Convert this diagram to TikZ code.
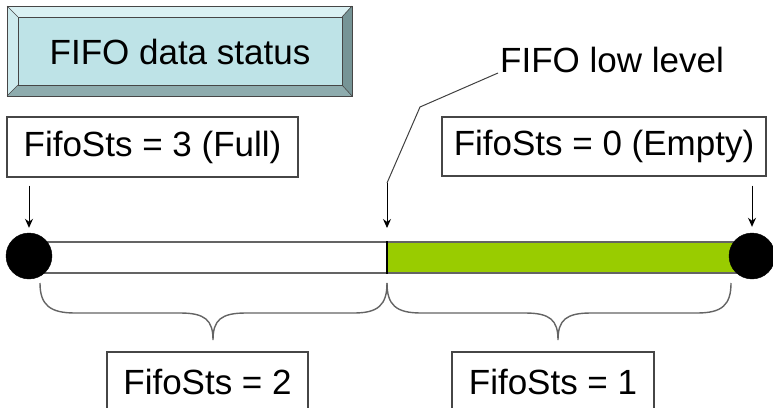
\documentclass[tikz,border=0pt]{standalone}
\usepackage{fontspec}
\setmainfont{Liberation Sans}
\usetikzlibrary{arrows.meta}
\definecolor{face}{RGB}{190,227,231}
\definecolor{bvtop}{RGB}{218,241,243}
\definecolor{bvleft}{RGB}{206,235,238}
\definecolor{bvright}{RGB}{118,148,150}
\definecolor{bvbot}{RGB}{142,172,174}
\definecolor{lime}{RGB}{153,204,0}
\definecolor{edge}{RGB}{70,70,70}
\definecolor{baredge}{RGB}{100,100,100}
\tikzset{
  lbl/.style={font=\fontsize{35}{42}\selectfont, text=black, inner sep=0pt},
  boxed/.style={lbl, draw=edge, line width=1.2pt, fill=white},
  arr/.style={-{Stealth[length=9pt,width=8pt]}, line width=1pt, black},
  brace/.style={line width=1.4pt, draw=baredge},
  dot/.style={circle, fill=black, draw=black, minimum size=46pt, inner sep=0pt},
}
\begin{document}
\begin{tikzpicture}[x=1pt,y=-1pt]
\useasboundingbox (0,0) rectangle (773,407);
% bevelled title box
\fill[bvtop] (7,6) -- (352,6) -- (342,17) -- (18,17) -- cycle;
\fill[bvleft] (7,6) -- (18,17) -- (18,85) -- (7,96) -- cycle;
\fill[bvright] (352,6) -- (352,96) -- (342,85) -- (342,17) -- cycle;
\fill[bvbot] (7,96) -- (352,96) -- (342,85) -- (18,85) -- cycle;
\fill[face] (18,17) rectangle (342,85);
\draw[edge, line width=1pt] (7,6) rectangle (352,96);
\draw[edge, line width=1pt] (18,17) rectangle (342,85);
\draw[edge, line width=0.6pt] (7,6) -- (18,17) (352,6) -- (342,17) (7,96) -- (18,85) (352,96) -- (342,85);
\node[lbl] (title) at (180,52) {FIFO data status};

% bar
\node[draw=baredge, line width=1.4pt, fill=white, minimum width=347pt, minimum height=31pt, inner sep=0pt, anchor=east] (white) at (387,257.5) {};
\node[draw=baredge, line width=1.4pt, fill=lime, minimum width=366pt, minimum height=31pt, inner sep=0pt, anchor=west] (green) at (387,257.5) {};
\draw[black, line width=1.2pt] (green.north west) -- (green.south west);
\node[dot] (lc) at (29,256) {};
\node[dot] (rc) at (752,256) {};

% labels
\node[boxed, minimum width=291pt, minimum height=60pt] (full) at (152.5,147) {FifoSts = 3 (Full)};
\node[boxed, minimum width=324pt, minimum height=59pt] (empty) at (604,146.5) {FifoSts = 0 (Empty)};
\node[lbl] (low) at (612,60) {FIFO low level};
\node[boxed, minimum width=201pt, minimum height=60pt] (two) at (207.5,382) {FifoSts = 2};
\node[boxed, minimum width=202pt, minimum height=60pt] (one) at (553,382) {FifoSts = 1};

% arrows
\coordinate (lowtip) at (387,228);
\coordinate (lowa) at (498,73);
\coordinate (lowb) at (420,107);
\coordinate (lowc) at (387,183);
\draw[arr, shorten <=8pt, shorten >=5pt] (full.south -| lc) -- (lc.north);
\draw[arr, shorten <=9pt, shorten >=6pt] (empty.south -| rc) -- (rc.north);
\draw[line width=1pt, black!75] (lowa) -- (lowb) -- (lowc);
\draw[arr] (lowc) -- (lowtip);

% braces
\coordinate (b1s) at (40,283);
\coordinate (b1t) at (213,340);
\coordinate (mid) at (387,283);
\coordinate (b2t) at (558,340);
\coordinate (b2e) at (731,283);
\draw[brace] (b1s) .. controls (40,305) and (50,313) .. (75,313) -- (180,313)
  .. controls (205,313) and (213,320) .. (b1t)
  .. controls (213,320) and (221,313) .. (246,313) -- (354,313)
  .. controls (378,313) and (387,305) .. (mid);
\draw[brace] (mid) .. controls (387,305) and (396,313) .. (421,313) -- (525,313)
  .. controls (550,313) and (558,320) .. (b2t)
  .. controls (558,320) and (566,313) .. (591,313) -- (697,313)
  .. controls (722,313) and (731,305) .. (b2e);
\end{tikzpicture}
\end{document}
